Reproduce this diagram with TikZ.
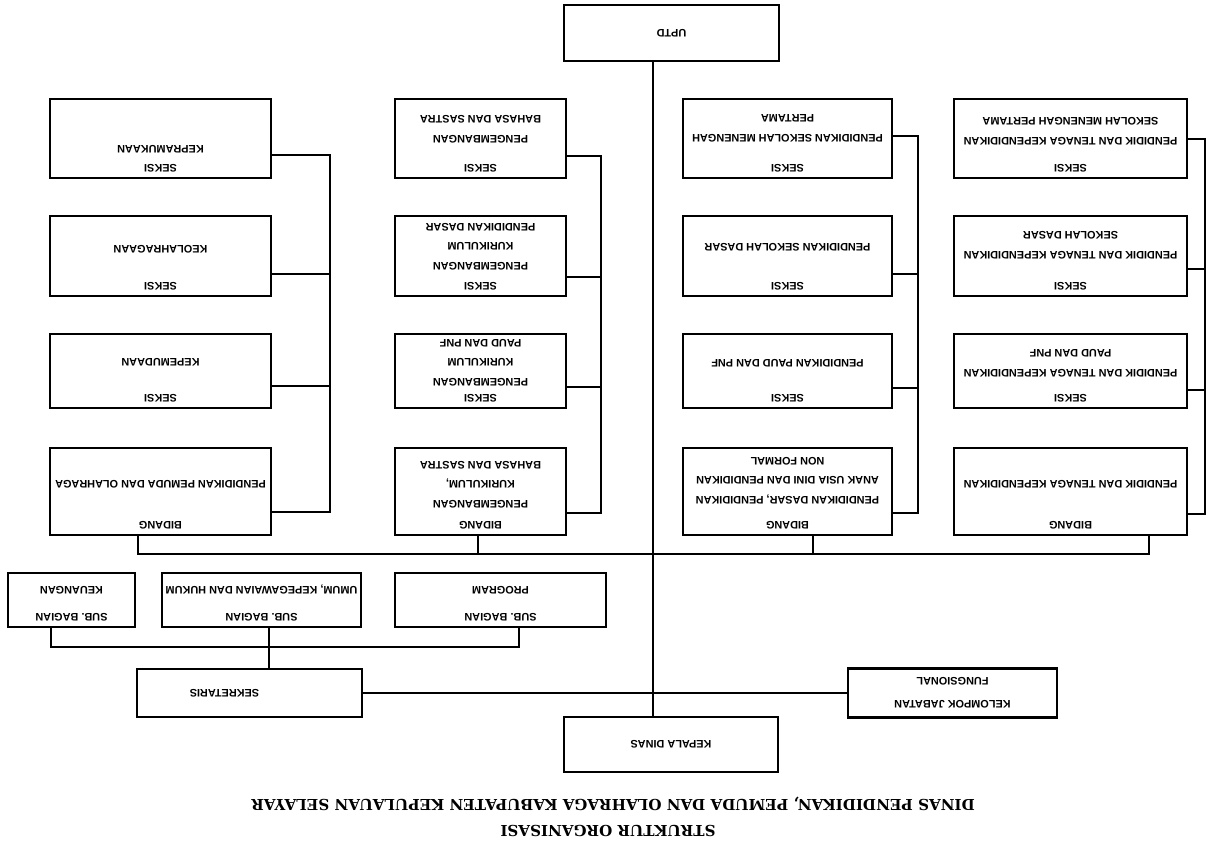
\documentclass[tikz,border=0pt]{standalone}
\usepackage{fontspec}
\usetikzlibrary{positioning}
\newfontfamily\boxfam{Liberation Sans}
\newfontfamily\titlefam{DejaVu Serif}
\newcommand{\boxfont}{\boxfam\bfseries\fontsize{6.2}{11}\selectfont}
% header line at the top of a unit, body lines after a gap
\newcommand{\orgbox}[5]{\parbox[c][#2][t]{#1}{\centering\rule{0pt}{0.28cm}#3\\[#4]#5}}
\tikzset{
	orgunit/.style={draw=black,line width=1.4pt,inner sep=0pt,font=\boxfont},
	plainunit/.style={draw=black,line width=1.4pt,inner sep=0pt,font=\boxfont,align=center},
	link/.style={line width=1pt},
	heading/.style={inner sep=0pt,font=\titlefam\bfseries\fontsize{8.6}{11}\selectfont}
}
\begin{document}
\begin{tikzpicture}[x=0.02cm,y=-0.02cm]
	\useasboundingbox (0,0) rectangle (1206,849);
	% the scanned chart lies upside down
	\begin{scope}[shift={(1206,849)},rotate=180,transform shape]
		\node[heading] (judul) at (598,18) {STRUKTUR ORGANISASI};
		\node[heading] (dinas) at (593,45) {DINAS PENDIDIKAN, PEMUDA DAN OLAHRAGA KABUPATEN KEPULAUAN SELAYAR};
		
		\node[plainunit,minimum width=4.28cm,minimum height=1.1cm] (kepala) at (535,104.5) {KEPALA DINAS};
		\node[plainunit,minimum width=4.3cm,minimum height=1.12cm] (uptd) at (534.5,816) {UPTD};
		
		\node[plainunit,minimum width=4.5cm,minimum height=0.96cm] (sekretaris) at (956.5,156) {\hspace*{1cm}SEKRETARIS};
		\node[plainunit,minimum width=4.18cm,minimum height=0.98cm] (kelompok) at (253.5,156) {KELOMPOK JABATAN\\[0.07cm]FUNGSIONAL};
		
		\node[orgunit] (keuangan) at (1134.5,249) {\orgbox{2.54cm}{1.08cm}{SUB. BAGIAN}{0.15cm}{KEUANGAN}};
		\node[orgunit] (umum) at (944.5,249) {\orgbox{3.98cm}{1.08cm}{SUB. BAGIAN}{0.15cm}{UMUM, KEPEGAWAIAN DAN HUKUM}};
		\node[orgunit] (program) at (705.5,249) {\orgbox{4.22cm}{1.08cm}{SUB. BAGIAN}{0.15cm}{PROGRAM}};
		
		% bidang pemuda dan olahraga
		\node[orgunit] (bidpemuda) at (1045.5,357.5) {\orgbox{4.42cm}{1.74cm}{BIDANG}{0.43cm}{PENDIDIKAN PEMUDA DAN OLAHRAGA}};
		\node[orgunit] (kepemudaan) at (1045.5,478) {\orgbox{4.42cm}{1.48cm}{SEKSI}{0.33cm}{KEPEMUDAAN}};
		\node[orgunit] (keolahragaan) at (1045.5,593) {\orgbox{4.42cm}{1.6cm}{SEKSI}{0.35cm}{KEOLAHRAGAAN}};
		\node[orgunit] (kepramukaan) at (1045.5,710.5) {\orgbox{4.42cm}{1.58cm}{SEKSI}{-0.01cm}{KEPRAMUKAAN}};
		
		% bidang kurikulum
		\node[orgunit] (bidkurikulum) at (725.5,357.5) {\orgbox{3.42cm}{1.74cm}{BIDANG}{0.03cm}{PENGEMBANGAN\\KURIKULUM,\\BAHASA DAN SASTRA}};
		\node[orgunit] (kurpaud) at (725.5,478) {\orgbox{3.42cm}{1.48cm}{SEKSI}{-0.07cm}{PENGEMBANGAN\\KURIKULUM\\PAUD DAN PNF}};
		\node[orgunit] (kurdasar) at (725.5,593) {\orgbox{3.42cm}{1.6cm}{SEKSI}{0.01cm}{PENGEMBANGAN\\KURIKULUM\\PENDIDIKAN DASAR}};
		\node[orgunit] (bahasa) at (725.5,710.5) {\orgbox{3.42cm}{1.58cm}{SEKSI}{0.19cm}{PENGEMBANGAN\\BAHASA DAN SASTRA}};
		
		% bidang pendidikan dasar
		\node[orgunit] (biddasar) at (418.5,357.5) {\orgbox{4.18cm}{1.74cm}{BIDANG}{0.11cm}{PENDIDIKAN DASAR, PENDIDIKAN\\ANAK USIA DINI DAN PENDIDIKAN\\NON FORMAL}};
		\node[orgunit] (paud) at (418.5,478) {\orgbox{4.18cm}{1.48cm}{SEKSI}{0.31cm}{PENDIDIKAN PAUD DAN PNF}};
		\node[orgunit] (sd) at (418.5,593) {\orgbox{4.18cm}{1.6cm}{SEKSI}{0.39cm}{PENDIDIKAN SEKOLAH DASAR}};
		\node[orgunit] (smp) at (418.5,710.5) {\orgbox{4.18cm}{1.58cm}{SEKSI}{0.21cm}{PENDIDIKAN SEKOLAH MENENGAH\\PERTAMA}};
		
		% bidang pendidik dan tenaga kependidikan
		\node[orgunit] (bidptk) at (135.5,357.5) {\orgbox{4.66cm}{1.74cm}{BIDANG}{0.43cm}{PENDIDIK DAN TENAGA KEPENDIDIKAN}};
		\node[orgunit] (ptkpaud) at (135.5,478) {\orgbox{4.66cm}{1.48cm}{SEKSI}{0.11cm}{PENDIDIK DAN TENAGA KEPENDIDIKAN\\PAUD DAN PNF}};
		\node[orgunit] (ptksd) at (135.5,593) {\orgbox{4.66cm}{1.6cm}{SEKSI}{0.23cm}{PENDIDIK DAN TENAGA KEPENDIDIKAN\\SEKOLAH DASAR}};
		\node[orgunit] (ptksmp) at (135.5,710.5) {\orgbox{4.66cm}{1.58cm}{SEKSI}{0.15cm}{PENDIDIK DAN TENAGA KEPENDIDIKAN\\SEKOLAH MENENGAH PERTAMA}};
		
		% garis komando
		\draw[link] (kepala.south -| 553,0) -- (uptd.north -| 553,0);
		\draw[link] (kelompok.east) -- (kelompok.east -| sekretaris.west);
		\draw[link] (sekretaris.south -| 937,0) -- (umum.north -| 937,0);
		\draw[link] (program.north -| 687,0) -- (687,202) -- (1155,202) -- (keuangan.north -| 1155,0);
		
		\draw[link] (bidpemuda.north -| 1068,0) -- (1068,295) -- (57,295) -- (bidptk.north -| 57,0);
		\draw[link] (bidkurikulum.north -| 728,0) -- (728,295);
		\draw[link] (biddasar.north -| 393,0) -- (393,295);
		
		\draw[link] (kepramukaan.west |- 0,694) -- (876,694) -- (876,337) -- (bidpemuda.west |- 0,337);
		\draw[link] (keolahragaan.west |- 0,575) -- (876,575);
		\draw[link] (kepemudaan.west |- 0,463) -- (876,463);
		
		\draw[link] (bahasa.west |- 0,693) -- (605,693) -- (605,336) -- (bidkurikulum.west |- 0,336);
		\draw[link] (kurdasar.west |- 0,572) -- (605,572);
		\draw[link] (kurpaud.west |- 0,462) -- (605,462);
		
		\draw[link] (smp.west |- 0,713) -- (288,713) -- (288,336) -- (biddasar.west |- 0,336);
		\draw[link] (sd.west |- 0,575) -- (288,575);
		\draw[link] (paud.west |- 0,461) -- (288,461);
		
		\draw[link] (ptksmp.west |- 0,710) -- (1,710) -- (1,335) -- (bidptk.west |- 0,335);
		\draw[link] (ptksd.west |- 0,580) -- (1,580);
		\draw[link] (ptkpaud.west |- 0,459) -- (1,459);
	\end{scope}
\end{tikzpicture}
\end{document}
